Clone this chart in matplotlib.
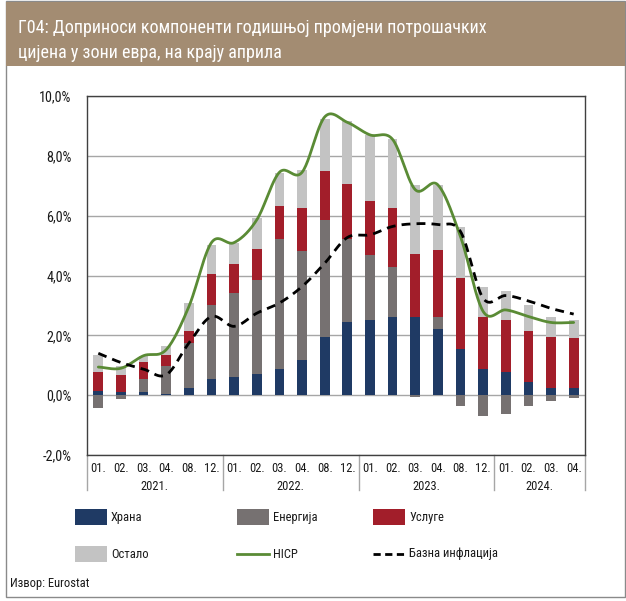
import numpy as np
import matplotlib
matplotlib.use("Agg")
import matplotlib.pyplot as plt
from matplotlib.patches import Rectangle
from matplotlib.lines import Line2D
from matplotlib import font_manager

# ---------------- data ----------------
months = ["01.", "02.", "03.", "04.", "08.", "12.",
          "01.", "02.", "03.", "04.", "08.", "12.",
          "01.", "02.", "03.", "04.", "08.", "12.",
          "01.", "02.", "03.", "04."]
years = ["2021.", "2022.", "2023.", "2024."]
year_sizes = [6, 6, 6, 4]

food = [0.14, 0.09, 0.09, 0.05, 0.25, 0.54, 0.60, 0.71, 0.89, 1.18, 1.93,
        2.43, 2.50, 2.60, 2.60, 2.22, 1.53, 0.88, 0.77, 0.43, 0.25, 0.25]
energy = [-0.43, -0.13, 0.44, 0.91, 1.49, 2.46, 2.81, 3.15, 4.34, 3.65, 3.93,
          2.80, 2.17, 1.67, -0.07, 0.38, -0.36, -0.69, -0.63, -0.36, -0.19, -0.10]
services = [0.65, 0.57, 0.59, 0.39, 0.42, 1.05, 0.98, 1.02, 1.10, 1.44, 1.62,
            1.84, 1.83, 2.00, 2.13, 2.24, 2.40, 1.72, 1.73, 1.73, 1.71, 1.65]
other = [0.56, 0.32, 0.20, 0.28, 0.92, 0.98, 0.71, 1.04, 1.09, 1.26, 1.75,
         2.08, 2.21, 2.29, 2.28, 2.17, 1.68, 1.03, 0.97, 0.86, 0.65, 0.60]
hicp = [0.94, 0.90, 1.32, 1.52, 2.96, 5.10, 5.10, 5.86, 7.45, 7.45, 9.30,
        9.12, 8.70, 8.55, 6.87, 7.03, 5.30, 2.80, 2.85, 2.63, 2.43, 2.43]
core = [1.40, 1.09, 0.87, 0.68, 1.74, 2.63, 2.30, 2.74, 3.08, 3.63, 4.41,
        5.27, 5.36, 5.64, 5.73, 5.70, 5.47, 3.24, 3.33, 3.15, 2.90, 2.71]

series_names = ["Храна", "Енергија", "Услуге", "Остало"]
yticks = [-2, 0, 2, 4, 6, 8, 10]
ytick_labels = ["-2,0%", "0,0%", "2,0%", "4,0%", "6,0%", "8,0%", "10,0%"]

title_lines = ["Г04: Доприноси компоненти годишњој промјени потрошачких",
               "цијена у зони евра, на крају априла"]
source = "Извор: Eurostat"

# ---------------- font: prefer a condensed sans face ----------------
def _is_condensed(f):
    s = str(f.stretch).lower()
    return ("condensed" in s or "narrow" in s or "Narrow" in f.name
            or "Condensed" in f.name or (s.isdigit() and int(s) < 500))


def _is_regular(f):
    w = f.weight
    try:
        w = int(w)
    except (TypeError, ValueError):
        w = 400 if str(w).lower() in ("normal", "regular", "book") else 700
    return f.style == "normal" and 350 <= w <= 450


pref_order = ["Liberation Sans Narrow", "Open Sans", "Roboto", "Noto Sans",
              "DejaVu Sans", "Lato", "Inter"]
chosen = None
cands = [f for f in font_manager.fontManager.ttflist
         if _is_condensed(f) and _is_regular(f)]
for pname in pref_order:
    for f in cands:
        if f.name.startswith(pname):
            chosen = f
            break
    if chosen:
        break
if chosen is None and cands:
    chosen = cands[0]

if chosen is not None:
    plt.rcParams["font.family"] = [chosen.name, "DejaVu Sans"]
    plt.rcParams["font.stretch"] = chosen.stretch
    condensed = True
else:
    plt.rcParams["font.family"] = ["DejaVu Sans"]
    condensed = False

fs = 1.0 if condensed else 0.88   # scale for ordinary labels

c_food = "#1F3A64"
c_energy = "#767171"
c_services = "#A21E2A"
c_other = "#C3C3C3"
c_hicp = "#5A8B35"
c_title = "#A38C72"
c_grid = "#A6A6A6"
c_spine = "#404040"
c_text = "#1A1A1A"

W, H = 626, 601
fig = plt.figure(figsize=(W / 100, H / 100), dpi=100)


def fx(px):
    return px / W


def fy(py):
    return 1 - py / H


# figure frame and title band
fig.patches.append(Rectangle((fx(6), fy(597)), fx(619), 596.5 / H,
                             transform=fig.transFigure, fill=False,
                             edgecolor="#8A8A8A", linewidth=1.0, zorder=0))
fig.patches.append(Rectangle((fx(6), fy(66)), fx(619), 64 / H,
                             transform=fig.transFigure, facecolor=c_title,
                             edgecolor="none", zorder=1))
t1 = fig.text(fx(18), fy(33), title_lines[0], color="white", fontsize=14.5,
              va="baseline", ha="left")
t2 = fig.text(fx(18), fy(58), title_lines[1], color="white", fontsize=14.5,
              va="baseline", ha="left")

# ---------------- axes ----------------
ax = fig.add_axes([fx(87), fy(455), fx(585 - 87), (455 - 96) / H])
x = np.arange(len(months))
width = 0.43

pos_base = np.zeros(len(x))
neg_base = np.zeros(len(x))
for vals, col in zip([food, energy, services, other],
                     [c_food, c_energy, c_services, c_other]):
    v = np.array(vals)
    bottoms = np.where(v >= 0, pos_base, neg_base)
    ax.bar(x, v, width=width, bottom=bottoms, color=col, zorder=3,
           linewidth=0)
    pos_base = pos_base + np.where(v >= 0, v, 0)
    neg_base = neg_base + np.where(v < 0, v, 0)


def catmull_rom(xs, ys, n=24):
    xs = np.asarray(xs, float)
    ys = np.asarray(ys, float)
    px = np.concatenate([[2 * xs[0] - xs[1]], xs, [2 * xs[-1] - xs[-2]]])
    py = np.concatenate([[2 * ys[0] - ys[1]], ys, [2 * ys[-1] - ys[-2]]])
    outx, outy = [], []
    t = np.linspace(0, 1, n, endpoint=False)
    for i in range(1, len(px) - 2):
        for arr, out in ((px, outx), (py, outy)):
            p0, p1, p2, p3 = arr[i - 1], arr[i], arr[i + 1], arr[i + 2]
            seg = 0.5 * ((2 * p1) + (-p0 + p2) * t +
                         (2 * p0 - 5 * p1 + 4 * p2 - p3) * t ** 2 +
                         (-p0 + 3 * p1 - 3 * p2 + p3) * t ** 3)
            out.extend(seg)
    outx.append(xs[-1])
    outy.append(ys[-1])
    return np.array(outx), np.array(outy)


hx, hy = catmull_rom(x, hicp)
ax.plot(hx, hy, color=c_hicp, linewidth=2.0, zorder=5, solid_capstyle="round")
cx, cy = catmull_rom(x, core)
ax.plot(cx, cy, color="black", linewidth=2.0, linestyle=(0, (3.2, 2.2)), zorder=6)

ax.set_xlim(-0.5, len(x) - 0.5)
ax.set_ylim(-2, 10)
ax.set_yticks(yticks)
ax.set_yticklabels(ytick_labels)
ax.yaxis.grid(True, color=c_grid, linewidth=1.0, zorder=1)
ax.set_axisbelow(True)
ax.tick_params(axis="y", length=0, pad=11, labelsize=10.2 * fs, labelcolor=c_text)
ax.set_xticks(x)
ax.set_xticklabels(months)
ax.tick_params(axis="x", length=0, pad=5, labelsize=9.0 * fs, labelcolor=c_text)
for s in ax.spines.values():
    s.set_color(c_spine)
    s.set_linewidth(1.0)

# year group labels and separators
trans = ax.get_xaxis_transform()
ax_h = 455 - 96
sep_bottom = -(490 - 455) / ax_h
start = 0
for yr, n in zip(years, year_sizes):
    left = start - 0.5
    right = start + n - 0.5
    ax.add_line(Line2D([left, left], [0, sep_bottom], transform=trans,
                       color="#A6A6A6", linewidth=1.0, clip_on=False))
    ax.text((left + right) / 2, -(487 - 455) / ax_h, yr, transform=trans,
            ha="center", va="center", fontsize=9.0 * fs, color=c_text)
    start += n
ax.add_line(Line2D([start - 0.5, start - 0.5], [0, sep_bottom], transform=trans,
                   color="#A6A6A6", linewidth=1.0, clip_on=False))

# ---------------- legend ----------------
legend_cols = [75, 237, 373]
row_y = [517, 554]
patch_w, patch_h = 32, 16
items = [("patch", c_food, series_names[0]),
         ("patch", c_energy, series_names[1]),
         ("patch", c_services, series_names[2]),
         ("patch", c_other, series_names[3]),
         ("line", c_hicp, "HICP"),
         ("dash", "black", "Базна инфлација")]
for i, (kind, col, label) in enumerate(items):
    cx0 = legend_cols[i % 3]
    cy0 = row_y[i // 3]
    if kind == "patch":
        fig.patches.append(Rectangle((fx(cx0), fy(cy0 + patch_h / 2)),
                                     patch_w / W, patch_h / H,
                                     transform=fig.transFigure,
                                     facecolor=col, edgecolor="none"))
    elif kind == "line":
        fig.lines.append(Line2D([fx(cx0), fx(cx0 + patch_w)], [fy(cy0), fy(cy0)],
                                transform=fig.transFigure, color=col,
                                linewidth=2.0))
    else:
        fig.lines.append(Line2D([fx(cx0), fx(cx0 + patch_w)], [fy(cy0), fy(cy0)],
                                transform=fig.transFigure, color=col,
                                linewidth=2.0, linestyle=(0, (2.6, 1.6))))
    fig.text(fx(cx0 + patch_w + 4), fy(cy0), label, fontsize=9.0 * fs,
             va="center", ha="left", color=c_text)

fig.text(fx(10), fy(584), source, fontsize=9.0 * fs, va="center", ha="left",
         color=c_text)

# fit title line 1 to the reference width (~470 px)
fig.canvas.draw()
r = fig.canvas.get_renderer()
w1 = t1.get_window_extent(r).width
if w1 > 472:
    new = 14.5 * 470 / w1
    t1.set_fontsize(new)
    t2.set_fontsize(new)

fig.savefig("out.png", dpi=100)
